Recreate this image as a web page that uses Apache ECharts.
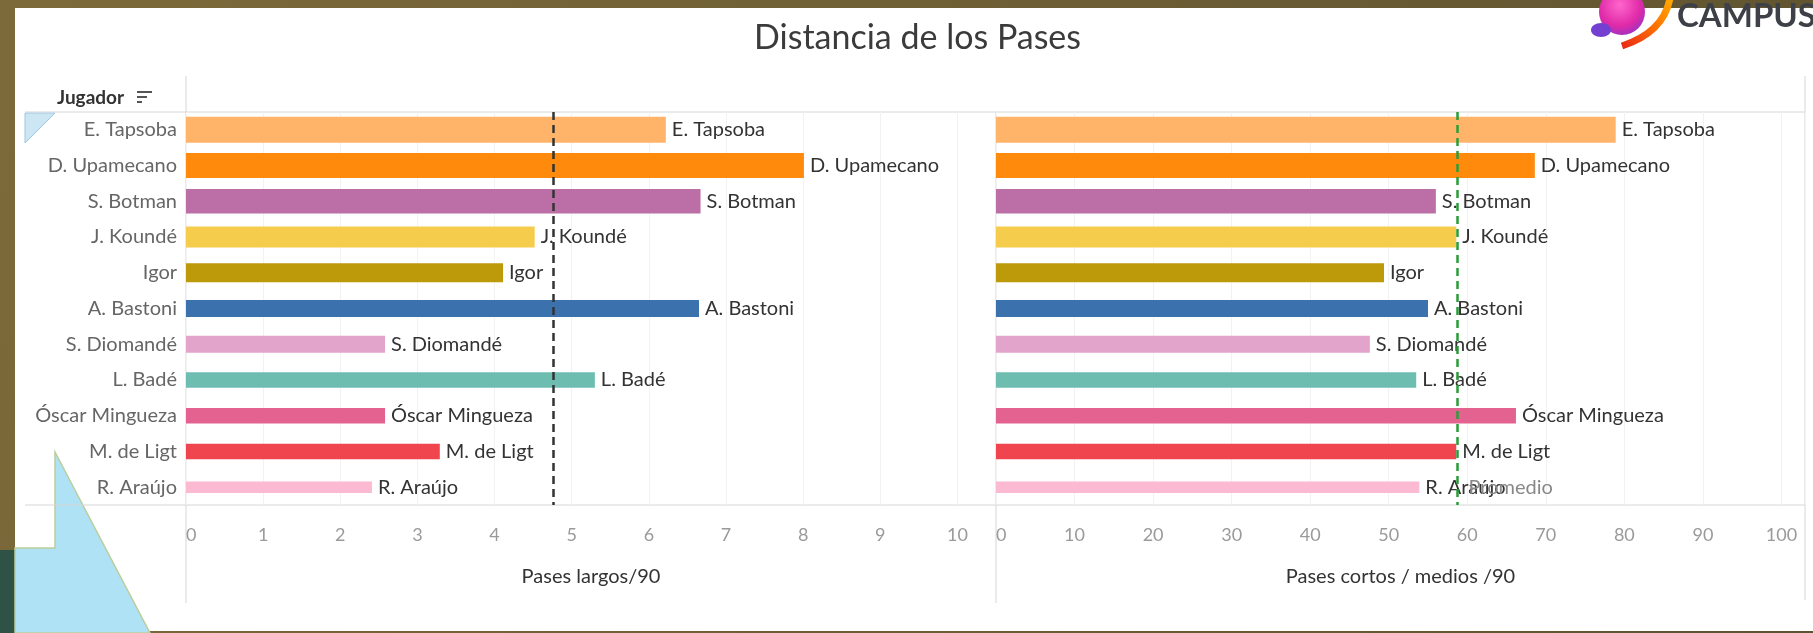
<!DOCTYPE html>
<html>
<head>
<meta charset="utf-8">
<script src="https://cdn.jsdelivr.net/npm/echarts@6/dist/echarts.min.js"></script>
<style>
html, body { margin: 0; padding: 0; background: #6f6035; }
#chart { width: 1813px; height: 633px; }
</style>
</head>
<body>
<div id="chart"></div>
<script>
// datos
const players = ['E. Tapsoba', 'D. Upamecano', 'S. Botman', 'J. Koundé', 'Igor', 'A. Bastoni',
  'S. Diomandé', 'L. Badé', 'Óscar Mingueza', 'M. de Ligt', 'R. Araújo']
const pasesLargos = [6.22, 8.01, 6.67, 4.52, 4.11, 6.65, 2.58, 5.30, 2.58, 3.29, 2.41]
const pasesCortos = [78.9, 68.6, 56.0, 58.6, 49.4, 55.0, 47.6, 53.5, 66.2, 58.6, 53.9]
const largosMax = 10.5
const cortosMax = 103

// estilo de las barras
const barColors = ['#ffb46a', '#ff8a0c', '#bb6fa6', '#f6cc4c', '#bd9a0a', '#3b72ad',
  '#e2a4cb', '#6dbdb1', '#e3628f', '#f0444f', '#fbbad2']
const barThickness = [26, 25, 24.5, 21, 19, 17, 17, 15.5, 15.5, 15.5, 11.5]
const FONT = 'Lato'

const mean = (arr) => arr.reduce((s, v) => s + v, 0) / arr.length

function barSeries(values, idx, lineColor, lineLabel) {
  return {
    type: 'custom',
    xAxisIndex: idx,
    yAxisIndex: idx,
    encode: { x: 0, y: 1 },
    data: values.map((v, i) => [v, i]),
    renderItem: (params, api) => {
      const i = params.dataIndex
      const p0 = api.coord([0, api.value(1)])
      const p1 = api.coord([api.value(0), api.value(1)])
      const h = barThickness[i]
      return {
        type: 'group',
        children: [
          {
            type: 'rect',
            shape: { x: p0[0], y: p0[1] - h / 2, width: p1[0] - p0[0], height: h },
            style: { fill: barColors[i] }
          },
          {
            type: 'text',
            x: p1[0] + 6,
            y: p1[1],
            style: {
              text: players[i], fill: '#333', fontSize: 20, fontFamily: FONT,
              verticalAlign: 'middle', align: 'left'
            }
          }
        ]
      }
    },
    markLine: {
      silent: true,
      symbol: 'none',
      lineStyle: { color: lineColor, type: [8, 5], width: 2.5 },
      label: {
        show: !!lineLabel,
        formatter: lineLabel || '',
        position: 'end',
        align: 'left',
        verticalAlign: 'bottom',
        offset: [11, -12],
        color: '#888',
        fontSize: 20,
        fontFamily: FONT
      },
      data: [{ xAxis: mean(values) }]
    }
  }
}

function valueAxis(idx, max, interval, name) {
  return {
    type: 'value',
    gridIndex: idx,
    min: 0,
    max: max,
    interval: interval,
    axisLine: { show: false },
    axisTick: { show: false },
    splitLine: { show: true, lineStyle: { color: '#f2f2f2' } },
    axisLabel: {
      color: '#9a9a9a', fontSize: 18, fontFamily: FONT, margin: 21,
      alignMinLabel: 'left',
      formatter: (v) => (v % interval === 0 ? String(v) : '')
    },
    name: name,
    nameLocation: 'middle',
    nameGap: 62,
    nameTextStyle: { color: '#333', fontSize: 20, fontFamily: FONT }
  }
}

function catAxis(idx, showLabel) {
  return {
    type: 'category',
    gridIndex: idx,
    data: players,
    inverse: true,
    axisLine: { show: false },
    axisTick: { show: false },
    splitLine: { show: false },
    axisLabel: { show: showLabel, color: '#666', fontSize: 20, fontFamily: FONT, margin: 9 }
  }
}

const lineStyle = { stroke: '#d6d6d6', lineWidth: 1 }
const hline = (x1, x2, y) => ({ type: 'line', z: -5, shape: { x1, y1: y, x2, y2: y }, style: lineStyle })
const vline = (x, y1, y2) => ({ type: 'line', z: -5, shape: { x1: x, y1, x2: x, y2 }, style: lineStyle })

const chart = echarts.init(document.getElementById('chart'))
chart.setOption({
  animation: false,
  backgroundColor: '#6f6035',
  title: {
    text: 'Distancia de los Pases',
    left: 749,
    top: 16,
    textStyle: { fontSize: 34, fontWeight: 'normal', color: '#3b3b3b', fontFamily: FONT }
  },
  grid: [
    { left: 186, top: 112, width: 810, height: 393, outerBoundsMode: 'none' },
    { left: 996, top: 112, width: 809, height: 393, outerBoundsMode: 'none' }
  ],
  xAxis: [
    valueAxis(0, largosMax, 1, 'Pases largos/90'),
    valueAxis(1, cortosMax, 10, 'Pases cortos / medios /90')
  ],
  yAxis: [catAxis(0, true), catAxis(1, false)],
  series: [
    barSeries(pasesLargos, 0, '#333', null),
    barSeries(pasesCortos, 1, '#2a9d3a', 'Promedio')
  ],
  graphic: [
    {
      type: 'rect', z: -20, shape: { x: 0, y: 0, width: 1813, height: 633 },
      style: {
        fill: new echarts.graphic.LinearGradient(0, 0, 1, 1, [
          { offset: 0, color: '#7d6a3a' }, { offset: 1, color: '#5e5330' }
        ])
      }
    },
    { type: 'rect', z: -19, shape: { x: 0, y: 550, width: 15, height: 83 }, style: { fill: '#2f5246' } },
    { type: 'rect', z: -18, shape: { x: 15, y: 8, width: 1798, height: 623 }, style: { fill: '#fff' } },
    {
      type: 'polygon', z: -17,
      shape: { points: [[55, 452], [150, 633], [15, 633], [15, 548], [55, 548]] },
      style: { fill: '#aee2f4', stroke: '#bccd9c', lineWidth: 1.5 }
    },
    {
      type: 'polygon', z: -16,
      shape: { points: [[25, 113], [55, 113], [25, 143]] },
      style: { fill: '#cde6f4', stroke: '#9cc7e4', lineWidth: 1 }
    },
    vline(186, 76, 603),
    vline(996, 112, 603),
    vline(1805, 76, 600),
    hline(25, 1805, 112),
    hline(25, 1805, 505),
    {
      type: 'text', z: 10, x: 57, y: 98,
      style: { text: 'Jugador', fill: '#333', font: 'bold 19px Lato', verticalAlign: 'middle' }
    },
    { type: 'line', z: 10, shape: { x1: 137, y1: 92, x2: 152, y2: 92 }, style: { stroke: '#555', lineWidth: 2 } },
    { type: 'line', z: 10, shape: { x1: 137, y1: 97, x2: 147, y2: 97 }, style: { stroke: '#555', lineWidth: 2 } },
    { type: 'line', z: 10, shape: { x1: 137, y1: 102, x2: 142, y2: 102 }, style: { stroke: '#555', lineWidth: 2 } },
    // logo
    {
      type: 'circle', z: 50, shape: { cx: 1622, cy: 12, r: 23 },
      style: {
        fill: new echarts.graphic.RadialGradient(0.45, 0.35, 0.75, [
          { offset: 0, color: '#ff66cc' }, { offset: 0.6, color: '#e02aa8' }, { offset: 1, color: '#8a35c8' }
        ])
      }
    },
    { type: 'ellipse', z: 51, shape: { cx: 1601, cy: 30, rx: 10, ry: 7 }, style: { fill: '#7440d2' } },
    {
      type: 'bezierCurve', z: 52,
      shape: { x1: 1622, y1: 46, x2: 1670, y2: -2, cpx1: 1664, cpy1: 32 },
      style: {
        stroke: new echarts.graphic.LinearGradient(0, 1, 1, 0, [
          { offset: 0, color: '#e8201a' }, { offset: 0.6, color: '#ff7a00' }, { offset: 1, color: '#ffb300' }
        ]),
        lineWidth: 7, fill: null
      }
    },
    {
      type: 'text', z: 50, x: 1677, y: 16,
      style: { text: 'CAMPUS', fill: '#3d4147', font: 'bold 33px Lato', verticalAlign: 'middle' }
    }
  ]
})
</script>
</body>
</html>
